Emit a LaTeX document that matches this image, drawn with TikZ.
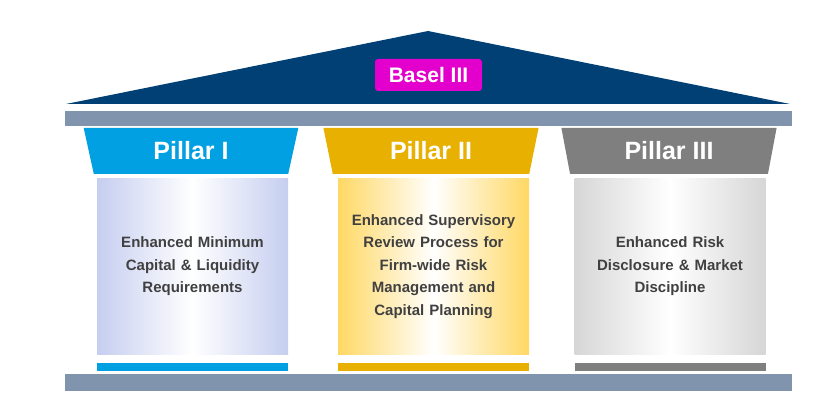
\documentclass[tikz,border=0pt]{standalone}
\usepackage{fontspec}
\setmainfont{Liberation Sans}
\usepackage{tikz}
\usetikzlibrary{calc, positioning, shapes.geometric}

\definecolor{roofblue}{RGB}{0,64,116}
\definecolor{barblue}{RGB}{128,148,173}
\definecolor{baselpink}{RGB}{228,0,204}
\definecolor{capcyan}{RGB}{0,160,226}
\definecolor{capgold}{RGB}{232,176,0}
\definecolor{capgray}{RGB}{127,127,127}
\definecolor{shadeblue}{RGB}{198,206,240}
\definecolor{shadegold}{RGB}{255,216,100}
\definecolor{shadegray}{RGB}{214,214,214}
\definecolor{bodytext}{RGB}{64,64,64}

\tikzset{
	capbox/.style={shape=trapezium, trapezium angle=78, shape border rotate=180,
		trapezium stretches=true, minimum width=216pt, minimum height=46pt,
		inner sep=0pt, text=white, font=\fontsize{25}{25}\selectfont\bfseries},
	colbox/.style={minimum width=191pt, minimum height=175pt, inner sep=0pt,
		text width=180pt, align=center, text=bodytext,
		font=\fontsize{15}{22.5}\selectfont\bfseries,
		left color=#1, right color=#1, middle color=white},
	stripe/.style={minimum width=191pt, minimum height=8pt, inner sep=0pt},
}

\begin{document}
\begin{tikzpicture}
			[x=1pt, y=-1pt]
			\useasboundingbox (0,0) rectangle (832,406);

			% roof %
			\fill[roofblue] (66,104) -- (428,31) -- (790,104) -- cycle;
			\node[fill=baselpink, rounded corners=3pt, minimum width=107pt, minimum height=32pt,
				inner sep=0pt, text=white, font=\fontsize{21}{21}\selectfont\bfseries] (basel) at (428.5,75) {Basel III};
			\fill[barblue] (65,111) rectangle (792,126);

			% nodes %
			\node[capbox, fill=capcyan] (cap1) at (191,151) {Pillar I};
			\node[capbox, fill=capgold] (cap2) at (431,151) {Pillar II};
			\node[capbox, fill=capgray] (cap3) at (669,151) {Pillar III};

			\node[colbox=shadeblue] (col1) at (192.5,266.5) {Enhanced Minimum\\Capital \& Liquidity\\Requirements};
			\node[colbox=shadegold] (col2) at (433.5,266.5) {Enhanced Supervisory\\Review Process for\\Firm-wide Risk\\Management and\\Capital Planning};
			\node[colbox=shadegray] (col3) at (670,266.5) {Enhanced Risk\\Disclosure \& Market\\Discipline};

			\node[stripe, fill=capcyan, below=9pt of col1] (foot1) {};
			\node[stripe, fill=capgold, below=9pt of col2] (foot2) {};
			\node[stripe, fill=capgray, below=9pt of col3] (foot3) {};

			% base %
			\fill[barblue] (65,374) rectangle (792,391);
			\end{tikzpicture}
\end{document}
